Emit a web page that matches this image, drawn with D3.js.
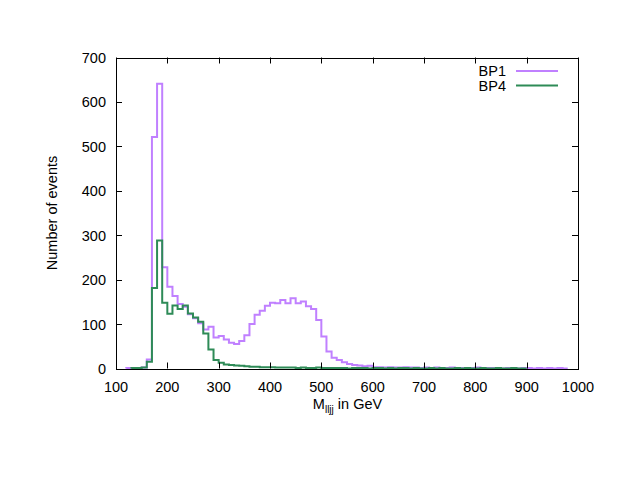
<!DOCTYPE html>
<html>
<head>
<meta charset="utf-8">
<script src="https://cdn.jsdelivr.net/npm/d3@7"></script>
<style>
  body { margin: 0; background: #fff; }
  svg text { font-family: "Liberation Sans", Arial, sans-serif; fill: #000; }
</style>
</head>
<body>
<div id="chart"></div>
<script>
// 10 GeV bins
const binWidth = 10;
const bp1Start = 120;
const bp1Counts = [1, 1, 1, 2, 20, 521, 641, 228, 184, 163,
  145, 139, 122, 113, 102, 88, 94, 70, 73, 65,
  58, 55, 62, 75, 100, 121, 130, 141, 148, 147,
  154, 147, 158, 147, 151, 140, 134, 109, 72, 38,
  24, 19, 14, 10, 8, 7, 5, 6, 3, 3,
  2, 3, 2, 2, 3, 2, 2, 1, 2, 1,
  2, 1, 1, 2, 1, 1, 1, 1, 2, 1,
  1, 1, 1, 0, 1, 1, 0, 1, 1, 0,
  1, 0, 1, 0, 1, 0];
const bp4Start = 130;
const bp4Counts = [1, 1, 2, 15, 181, 288, 148, 123, 142, 134,
  142, 124, 115, 105, 79, 43, 19, 13, 9, 8,
  7, 6, 5, 4, 4, 3, 3, 3, 2, 2,
  2, 2, 1, 2, 1, 1, 2, 1, 1, 1,
  1, 1, 0, 1, 1, 1, 0, 1, 1, 0,
  1, 0, 1, 1, 0, 1, 0, 0, 1, 0,
  1, 0, 0, 1, 0, 1, 0, 0, 1, 0,
  0, 1, 0, 0, 1, 0, 0];
const xTicks = [100, 200, 300, 400, 500, 600, 700, 800, 900, 1000];
const yTicks = [0, 100, 200, 300, 400, 500, 600, 700];
const seriesNames = ["BP1", "BP4"];
const seriesColors = ["#c080ff", "#2e8b57"];

const W = 623, H = 481;
const m = {left: 116, right: 578, top: 57.5, bottom: 368.5};
const fs = 14.5;

const svg = d3.select("#chart").append("svg")
  .attr("width", W).attr("height", H);

const x = d3.scaleLinear().domain([100, 1000]).range([m.left, m.right]);
const y = d3.scaleLinear().domain([0, 700]).range([m.bottom, m.top]);

// histogram outline as steps
function stepPoints(start, counts){
  const pts = [[start, 0]];
  counts.forEach((c, i) => pts.push([start + i*binWidth, c]));
  pts.push([start + counts.length*binWidth, counts[counts.length-1]]);
  pts.push([start + counts.length*binWidth, 0]);
  return pts;
}
const line = d3.line()
  .x(d => x(d[0]))
  .y(d => y(d[1]))
  .curve(d3.curveStepAfter);

const plot = svg.append("g");
[[bp1Start, bp1Counts], [bp4Start, bp4Counts]].forEach((s, i) => {
  plot.append("path")
    .attr("d", line(stepPoints(s[0], s[1])))
    .attr("fill", "none")
    .attr("stroke", seriesColors[i])
    .attr("stroke-width", 2)
    .attr("stroke-linejoin", "miter");
});

// frame and inward ticks on all sides
const frame = svg.append("g").attr("stroke", "#000").attr("stroke-width", 1);
const tl = 6;
xTicks.forEach(t => {
  const px = Math.round(x(t)) + 0.5;
  frame.append("line").attr("x1", px).attr("x2", px).attr("y1", m.bottom).attr("y2", m.bottom - tl);
  frame.append("line").attr("x1", px).attr("x2", px).attr("y1", m.top).attr("y2", m.top + tl);
});
yTicks.forEach(t => {
  const py = Math.round(y(t)) + 0.5;
  frame.append("line").attr("x1", m.left).attr("x2", m.left + tl).attr("y1", py).attr("y2", py);
  frame.append("line").attr("x1", m.right).attr("x2", m.right - tl).attr("y1", py).attr("y2", py);
});
frame.append("rect")
  .attr("x", Math.round(m.left) + 0.5).attr("y", Math.round(m.top) + 0.5)
  .attr("width", Math.round(m.right) - Math.round(m.left))
  .attr("height", Math.round(m.bottom) - Math.round(m.top))
  .attr("fill", "none");

// tick labels
svg.append("g").selectAll("text").data(xTicks).join("text")
  .attr("x", d => x(d)).attr("y", 391.5)
  .attr("text-anchor", "middle")
  .attr("font-size", fs)
  .text(d => d);
svg.append("g").selectAll("text").data(yTicks).join("text")
  .attr("x", 106).attr("y", d => y(d) + 5.5)
  .attr("text-anchor", "end")
  .attr("font-size", fs)
  .text(d => d);

// axis titles
const xl = svg.append("text")
  .attr("x", 347.5).attr("y", 408.5)
  .attr("text-anchor", "middle")
  .attr("font-size", fs);
xl.append("tspan").text("M");
xl.append("tspan").attr("font-size", 10).attr("dy", 4).text("lljj");
xl.append("tspan").attr("dy", -4).text(" in GeV");

svg.append("text")
  .attr("transform", `translate(57,${(m.top + m.bottom)/2}) rotate(-90)`)
  .attr("text-anchor", "middle")
  .attr("font-size", fs)
  .text("Number of events");

// legend
seriesNames.forEach((n, i) => {
  const ly = 71 + i*14.5;
  svg.append("text")
    .attr("x", 506).attr("y", ly + 5.2)
    .attr("text-anchor", "end")
    .attr("font-size", fs)
    .text(n);
  svg.append("line")
    .attr("x1", 516).attr("x2", 558)
    .attr("y1", ly).attr("y2", ly)
    .attr("stroke", seriesColors[i])
    .attr("stroke-width", 2);
});
</script>
</body>
</html>
